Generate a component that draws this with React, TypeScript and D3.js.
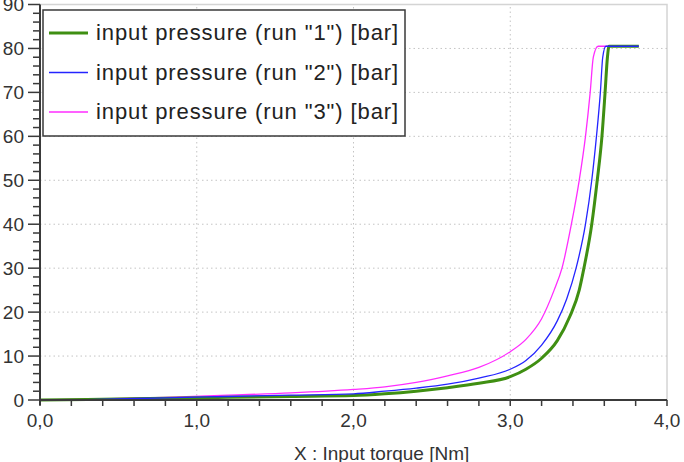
import React from "react";
import * as d3 from "d3";

const torqueRun1 = [0, 0.3, 0.8, 1.2, 1.6, 2.0, 2.2, 2.4, 2.6, 2.8, 3.0, 3.1, 3.2, 3.3, 3.38, 3.44, 3.47, 3.52, 3.555, 3.585, 3.605, 3.62, 3.63, 3.82];
const pressureRun1 = [0, 0.1, 0.4, 0.6, 0.8, 1.0, 1.4, 2.0, 2.8, 3.8, 5.3, 7.0, 9.5, 13.5, 19, 25, 30, 40, 50, 60, 70, 78, 80.5, 80.5];

const torqueRun2 = [0, 0.3, 0.8, 1.2, 1.6, 2.0, 2.2, 2.4, 2.6, 2.8, 3.0, 3.1, 3.2, 3.3, 3.36, 3.42, 3.48, 3.52, 3.55, 3.575, 3.59, 3.61, 3.82];
const pressureRun2 = [0, 0.1, 0.5, 0.8, 1.1, 1.4, 2.0, 2.7, 3.6, 5.0, 7.0, 9.0, 12.5, 18, 23, 30, 40, 50, 60, 70, 78, 80.5, 80.5];

const torqueRun3 = [0, 0.3, 0.8, 1.2, 1.6, 2.0, 2.2, 2.4, 2.6, 2.8, 3.0, 3.1, 3.2, 3.28, 3.33, 3.39, 3.44, 3.48, 3.51, 3.53, 3.56, 3.82];
const pressureRun3 = [0, 0.2, 0.6, 1.1, 1.6, 2.4, 3.0, 4.0, 5.5, 7.4, 11, 13.8, 18.5, 25, 30, 40, 50, 60, 70, 78, 80.5, 80.5];

const seriesNames = ['input pressure (run "1") [bar]', 'input pressure (run "2") [bar]', 'input pressure (run "3") [bar]'];
const seriesColors = ["#3f8f12", "#2424ff", "#ff2cff"];
const seriesWidths = [3, 1.3, 1.3];

const xTicks = [0, 1, 2, 3, 4];
const xTickLabels = ["0,0", "1,0", "2,0", "3,0", "4,0"];
const yTicks = [0, 10, 20, 30, 40, 50, 60, 70, 80, 90];
const xTitle = "X : Input torque [Nm]";

const W = 684;
const H = 462;

export default function App() {
  const x = d3.scaleLinear().domain([0, 4]).range([40, 667]);
  const y = d3.scaleLinear().domain([0, 90]).range([400, 4.5]);

  const runs = [
    { xs: torqueRun1, ys: pressureRun1 },
    { xs: torqueRun2, ys: pressureRun2 },
    { xs: torqueRun3, ys: pressureRun3 },
  ];
  const line = d3
    .line<[number, number]>()
    .x((d) => x(d[0]))
    .y((d) => y(d[1]))
    .curve(d3.curveMonotoneX);

  const xMinor = d3.range(0, 4.001, 0.2);
  const yMinor = d3.range(0, 90.001, 2);
  const font = "'Liberation Sans', Arial, sans-serif";
  const drawOrder = [2, 0, 1];

  return (
    <svg
      width={W}
      height={H}
      style={{ position: "absolute", left: 0, top: 0, background: "#fff" }}
      fontFamily={font}
    >
      {/* frame */}
      <rect x={x(0)} y={y(90)} width={x(4) - x(0)} height={y(0) - y(90)} fill="#fff" stroke="#d4d4d4" strokeWidth={1.5} />

      {/* grid */}
      {xTicks.slice(1, -1).map((t) => (
        <line key={"gx" + t} x1={x(t)} x2={x(t)} y1={y(0)} y2={y(90)} stroke="#c4c4c4" strokeDasharray="1.5,3" />
      ))}
      {yTicks.slice(1, -1).map((t) => (
        <line key={"gy" + t} x1={x(0)} x2={x(4)} y1={y(t)} y2={y(t)} stroke="#c4c4c4" strokeDasharray="1.5,3" />
      ))}

      {/* curves */}
      {drawOrder.map((i) => (
        <path
          key={"s" + i}
          d={line(runs[i].xs.map((v, k) => [v, runs[i].ys[k]] as [number, number])) || ""}
          fill="none"
          stroke={seriesColors[i]}
          strokeWidth={seriesWidths[i]}
        />
      ))}

      {/* y axis */}
      <line x1={x(0)} x2={x(0)} y1={y(90)} y2={y(0) + 5} stroke="#3a3a3a" strokeWidth={2} />
      {yMinor.map((t) => (
        <line key={"ym" + t} x1={x(0) - (t % 10 === 0 ? 12 : 7)} x2={x(0)} y1={y(t)} y2={y(t)} stroke="#3a3a3a" strokeWidth={1.5} />
      ))}
      {yTicks.map((t) => (
        <text key={"yl" + t} x={24} y={y(t)} dy="0.36em" textAnchor="end" fontSize={19} fill="#333">
          {t}
        </text>
      ))}

      {/* x axis */}
      <line x1={x(0)} x2={x(4)} y1={y(0)} y2={y(0)} stroke="#3a3a3a" strokeWidth={2} />
      {xMinor.map((t) => (
        <line key={"xm" + t} x1={x(t)} x2={x(t)} y1={y(0)} y2={y(0) + 6} stroke="#3a3a3a" strokeWidth={1.5} />
      ))}
      {xTicks.map((t, i) => (
        <text key={"xl" + t} x={x(t)} y={427} textAnchor="middle" fontSize={19} fill="#333">
          {xTickLabels[i]}
        </text>
      ))}
      <text x={294} y={460} fontSize={19} fill="#333">
        {xTitle}
      </text>

      {/* legend */}
      <rect x={43} y={10} width={362} height={126} fill="#fff" stroke="#3a3a3a" strokeWidth={1.5} />
      {seriesNames.map((name, i) => {
        const ly = 33 + i * 39.5;
        return (
          <g key={"lg" + i}>
            <line x1={49} x2={88} y1={ly} y2={ly} stroke={seriesColors[i]} strokeWidth={seriesWidths[i] === 3 ? 3 : 1.5} />
            <text x={96} y={ly + 7} fontSize={22} letterSpacing={0.9} fill="#222">
              {name}
            </text>
          </g>
        );
      })}
    </svg>
  );
}
